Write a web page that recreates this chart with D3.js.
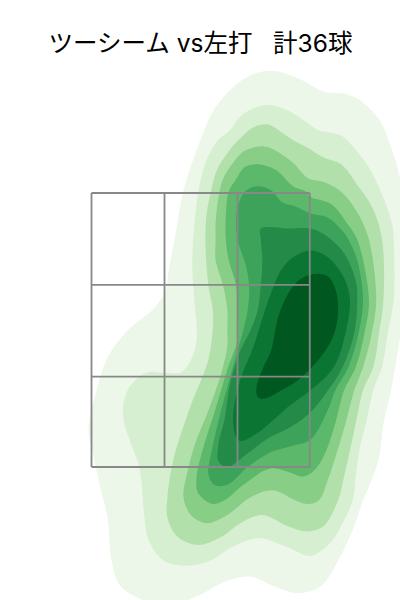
<!DOCTYPE html>
<html><head><meta charset="utf-8">
<script src="https://cdn.jsdelivr.net/npm/d3@7"></script>
<style>html,body{margin:0;padding:0;background:#fff}svg{display:block}</style>
</head><body><div id="chart"></div>
<script>
const titleText = "ツーシーム vs左打   計36球";
const xEdges = [-0.75, -0.25, 0.25, 0.745];
const zEdges = [1.5, 2.16, 2.83, 3.5];
const levelColors = ["#edf7e9","#d7efd1","#b2e0ab","#88ce87","#5cb86a","#3da35a","#238a48","#0b7633","#00571f"];
const level1 = [[.51,4.39],[.68,4.33],[.84,4.24],[1.00,4.22],[1.11,4.16],[1.23,4.02],[1.30,3.84],[1.35,3.67],[1.40,3.38],[1.42,3.02],[1.40,2.65],[1.37,2.48],[1.33,2.23],[1.30,2.05],[1.25,1.82],[1.22,1.57],[1.16,1.38],[1.11,1.26],[1.05,1.07],[.96,.86],[.82,.63],[.66,.58],[.50,.63],[.34,.70],[.18,.67],[-.02,.56],[-.24,.48],[-.40,.53],[-.55,.63],[-.61,.80],[-.64,1.13],[-.69,1.35],[-.74,1.60],[-.77,1.77],[-.71,2.08],[-.64,2.30],[-.50,2.50],[-.33,2.65],[-.25,2.77],[-.22,2.94],[-.17,3.23],[-.12,3.52],[-.02,3.84],[.09,4.11],[.25,4.30],[.39,4.38]];
const level2 = [[.48,4.14],[.62,4.09],[.72,4.02],[.80,3.96],[.96,3.92],[1.04,3.84],[1.13,3.72],[1.22,3.54],[1.31,3.27],[1.32,3.15],[1.32,2.72],[1.28,2.48],[1.24,2.23],[1.18,2.06],[1.13,1.82],[1.09,1.65],[1.06,1.43],[1.04,1.26],[.95,1.05],[.89,.95],[.75,.85],[.60,.91],[.40,.98],[.22,.92],[.07,.82],[-.09,.78],[-.26,.82],[-.36,.97],[-.39,1.16],[-.41,1.41],[-.43,1.53],[-.48,1.67],[-.53,1.84],[-.53,1.97],[-.48,2.10],[-.37,2.19],[-.26,2.19],[-.14,2.19],[-.07,2.28],[-.03,2.43],[-.05,2.77],[-.06,3.01],[-.04,3.33],[-.02,3.50],[.01,3.65],[.05,3.77],[.12,3.89],[.20,3.96],[.27,4.06],[.39,4.13]];
const level3 = [[.46,4.00],[.53,3.96],[.61,3.90],[.73,3.83],[.84,3.76],[.96,3.71],[1.07,3.56],[1.18,3.38],[1.24,3.16],[1.25,2.72],[1.22,2.48],[1.18,2.23],[1.11,2.06],[1.06,1.82],[1.01,1.57],[.98,1.43],[.94,1.26],[.84,1.07],[.73,1.03],[.59,1.07],[.42,1.15],[.27,1.09],[.14,.99],[-.02,.93],[-.16,.99],[-.23,1.13],[-.23,1.28],[-.19,1.55],[-.08,1.92],[.01,2.16],[.05,2.28],[.08,2.50],[.08,2.65],[.05,2.83],[.03,3.16],[.04,3.36],[.07,3.52],[.11,3.67],[.18,3.79],[.26,3.89],[.36,3.98]];
const level4 = [[.43,3.84],[.51,3.81],[.63,3.72],[.73,3.61],[.84,3.58],[.96,3.51],[1.07,3.36],[1.15,3.16],[1.20,2.72],[1.17,2.48],[1.11,2.23],[1.05,2.06],[.99,1.82],[.92,1.57],[.87,1.41],[.81,1.26],[.73,1.23],[.64,1.26],[.49,1.33],[.34,1.28],[.18,1.15],[.04,1.09],[-.07,1.15],[-.12,1.28],[-.10,1.43],[-.04,1.67],[.05,1.91],[.14,2.19],[.18,2.38],[.18,2.50],[.18,2.65],[.15,2.83],[.10,3.01],[.10,3.16],[.10,3.28],[.12,3.47],[.15,3.60],[.22,3.72],[.30,3.81]];
const level5 = [[.39,3.71],[.51,3.67],[.63,3.55],[.72,3.51],[.75,3.47],[.89,3.42],[1.00,3.28],[1.07,3.16],[1.15,2.72],[1.12,2.48],[1.06,2.23],[.98,2.06],[.92,1.82],[.85,1.60],[.78,1.48],[.70,1.43],[.61,1.46],[.48,1.49],[.29,1.37],[.18,1.27],[.08,1.23],[-.02,1.31],[-.03,1.43],[.01,1.62],[.09,1.89],[.18,2.21],[.25,2.43],[.25,2.65],[.24,2.83],[.19,3.01],[.17,3.16],[.17,3.33],[.19,3.51],[.24,3.60],[.30,3.69]];
const level6 = [[.39,3.55],[.48,3.52],[.56,3.43],[.65,3.40],[.75,3.35],[.87,3.32],[.98,3.21],[1.01,3.16],[1.07,3.01],[1.11,2.72],[1.08,2.48],[1.01,2.23],[.92,2.06],[.87,1.92],[.75,1.70],[.61,1.65],[.48,1.61],[.32,1.50],[.18,1.37],[.09,1.37],[.05,1.45],[.07,1.60],[.12,1.84],[.18,2.08],[.25,2.35],[.29,2.50],[.32,2.65],[.33,2.81],[.31,2.96],[.25,3.16],[.24,3.31],[.26,3.43],[.30,3.51]];
const level7 = [[.41,3.24],[.61,3.24],[.75,3.24],[.84,3.20],[.89,3.16],[.98,3.06],[1.06,2.86],[1.07,2.72],[1.05,2.48],[.97,2.23],[.87,2.06],[.75,1.90],[.61,1.79],[.46,1.71],[.32,1.60],[.18,1.50],[.12,1.54],[.12,1.67],[.16,1.84],[.20,2.11],[.27,2.35],[.34,2.50],[.39,2.65],[.41,2.83],[.42,3.01],[.41,3.16]];
const level8 = [[.75,3.08],[.63,3.03],[.55,2.94],[.48,2.77],[.41,2.55],[.36,2.38],[.27,2.14],[.22,1.87],[.24,1.72],[.27,1.69],[.39,1.75],[.61,1.95],[.75,2.06],[.91,2.23],[.99,2.48],[1.02,2.72],[.98,2.88],[.87,3.03]];
const level9 = [[.79,2.91],[.68,2.87],[.60,2.77],[.53,2.60],[.48,2.35],[.42,2.21],[.38,2.08],[.39,2.01],[.44,2.00],[.55,2.06],[.66,2.13],[.77,2.24],[.87,2.38],[.92,2.50],[.94,2.67],[.92,2.80],[.87,2.89]];
const levels = [level1, level2, level3, level4, level5, level6, level7, level8, level9];

const svg = d3.select("#chart").append("svg").attr("width", 400).attr("height", 600);
const x = d3.scaleLinear().domain([-0.75, 0.75]).range([91.5, 310.5]);
const z = d3.scaleLinear().domain([1.5, 3.5]).range([467, 193]);
const outline = d3.line().x(d => x(d[0])).y(d => z(d[1])).curve(d3.curveCatmullRomClosed.alpha(0.5));

svg.append("g").selectAll("path").data(levels).join("path")
  .attr("d", outline)
  .attr("fill", (d, i) => levelColors[i]);

const grid = svg.append("g").attr("stroke", "#888888").attr("stroke-width", 1.8).attr("fill", "none");
grid.selectAll(".v").data(xEdges).join("line").attr("class", "v")
  .attr("x1", d => x(d)).attr("x2", d => x(d)).attr("y1", z(3.5)).attr("y2", z(1.5));
grid.selectAll(".h").data(zEdges).join("line").attr("class", "h")
  .attr("x1", x(-0.75)).attr("x2", x(0.745)).attr("y1", d => z(d)).attr("y2", d => z(d));

svg.append("text").attr("x", 200.5).attr("y", 52).attr("text-anchor", "middle")
  .attr("font-family", "Inter,'Noto Sans CJK JP',sans-serif").attr("font-size", 24.5).attr("fill", "#000")
  .style("white-space", "pre").text(titleText);
</script></body></html>
